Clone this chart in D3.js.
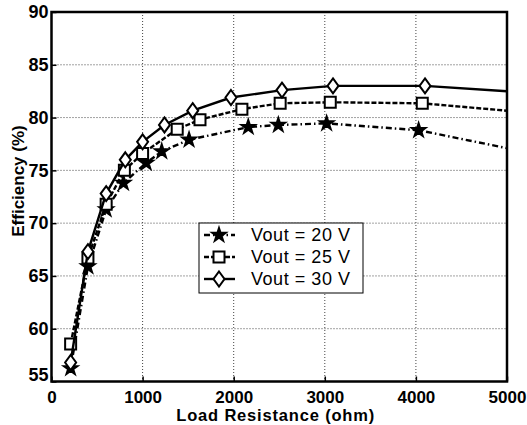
<!DOCTYPE html>
<html lang="en">
<head>
<meta charset="UTF-8" />
<script src="https://d3js.org/d3.v7.min.js"></script>
<style>
  body { margin: 0; background: #fff; }
  text { font-family: "Liberation Sans", Arial, sans-serif; }
</style>
<title>Efficiency</title>
</head>
<body>
<script>
// data
var seriesNames = ["Vout = 20 V", "Vout = 25 V", "Vout = 30 V"];
var load20 = [210, 400, 600, 790, 1040, 1210, 1510, 2160, 2490, 3020, 4030, 5000];
var eff20  = [56.25, 65.9, 71.3, 73.8, 75.7, 76.8, 77.9, 79.1, 79.3, 79.45, 78.8, 77.1];
var load25 = [210, 400, 600, 800, 1000, 1380, 1630, 2090, 2510, 3060, 4070, 5000];
var eff25  = [58.55, 66.7, 71.8, 75.0, 76.6, 78.9, 79.8, 80.8, 81.35, 81.45, 81.35, 80.65];
var load30 = [210, 400, 600, 810, 1000, 1240, 1550, 1970, 2530, 3090, 4100, 5000];
var eff30  = [56.8, 67.3, 72.8, 76.0, 77.7, 79.3, 80.65, 81.9, 82.6, 83.0, 83.0, 82.5];
var xTicks = [0, 1000, 2000, 3000, 4000, 5000];
var yTicks = [55, 60, 65, 70, 75, 80, 85, 90];

var margin = {top: 12, right: 20, bottom: 44, left: 51.5},
    W = 527, H = 425,
    w = 507 - margin.left,
    h = 381.5 - margin.top;

var svg = d3.select("body").append("svg")
    .attr("width", W)
    .attr("height", H);
var g = svg.append("g")
    .attr("transform", "translate(" + margin.left + "," + margin.top + ")");

var x = d3.scaleLinear().domain([0, 5000]).range([0, w]);
var y = d3.scaleLinear().domain([55, 90]).range([h, 0]);

// grid
g.selectAll(".gx").data(xTicks.slice(1, -1)).enter().append("line")
  .attr("x1", d => x(d)).attr("x2", d => x(d))
  .attr("y1", 0).attr("y2", h)
  .attr("stroke", "#444").attr("stroke-width", 1).attr("stroke-dasharray", "1,2");
g.selectAll(".gy").data(yTicks.slice(1, -1)).enter().append("line")
  .attr("y1", d => y(d)).attr("y2", d => y(d))
  .attr("x1", 0).attr("x2", w)
  .attr("stroke", "#444").attr("stroke-width", 1).attr("stroke-dasharray", "1,2");

// axes
var xAxis = g.append("g").attr("transform", "translate(0," + h + ")")
  .call(d3.axisBottom(x).tickValues(xTicks).tickSize(-5).tickPadding(0).tickFormat(d3.format("d")));
var yAxis = g.append("g")
  .call(d3.axisLeft(y).tickValues(yTicks).tickSize(-5).tickPadding(3));
[xAxis, yAxis].forEach(function(a) {
  a.select(".domain").remove();
  a.selectAll("text").attr("font-size", "18px").attr("font-weight", "bold")
    .attr("fill", "#000").attr("font-family", "Liberation Sans, Arial, sans-serif");
  a.selectAll(".tick line").attr("stroke", "#000").attr("stroke-width", 1.5);
});
// the 55 and 0 labels sit around the corner
yAxis.selectAll(".tick").filter(d => d === 55).select("text").attr("dy", "-0.05em");
xAxis.selectAll(".tick text").attr("font-size", "17px").attr("y", 21).attr("dy", 0);

// clip for the lines
g.append("clipPath").attr("id", "clip").append("rect")
  .attr("width", w).attr("height", h);

var series = [
  {name: seriesNames[0], load: load20, eff: eff20, dash: "6,3,1.5,3", mark: "star"},
  {name: seriesNames[1], load: load25, eff: eff25, dash: "5,2", mark: "square"},
  {name: seriesNames[2], load: load30, eff: eff30, dash: null, mark: "diamond"}
];

var line = d3.line().x(d => x(d[0])).y(d => y(d[1]));

function markerPath(kind) {
  if (kind === "star") return d3.symbol().type(d3.symbolStar).size(55)();
  if (kind === "square") return "M-5.5,-5.5H5.5V5.5H-5.5Z";
  return "M0,-7.5L5.5,0L0,7.5L-5.5,0Z";
}

series.forEach(function(s) {
  var pts = s.load.map((v, i) => [v, s.eff[i]]);
  g.append("path").datum(pts)
    .attr("clip-path", "url(#clip)")
    .attr("fill", "none").attr("stroke", "#000").attr("stroke-width", 2.4)
    .attr("stroke-dasharray", s.dash)
    .attr("d", line);
  g.selectAll(".m-" + s.mark).data(pts.filter(p => p[0] < 5000)).enter().append("path")
    .attr("transform", d => "translate(" + x(d[0]) + "," + y(d[1]) + ")")
    .attr("d", markerPath(s.mark))
    .attr("fill", s.mark === "star" ? "#000" : "#fff").attr("stroke", "#000").attr("stroke-width", 2);
});

// frame
g.append("rect").attr("width", w).attr("height", h)
  .attr("fill", "none").attr("stroke", "#000").attr("stroke-width", 2.5);

// legend
var lg = svg.append("g").attr("transform", "translate(199,223)");
lg.append("rect").attr("width", 164).attr("height", 70)
  .attr("fill", "#fff").attr("stroke", "#000").attr("stroke-width", 1);
series.forEach(function(s, i) {
  var yy = 12 + i * 22;
  lg.append("line").attr("x1", 5).attr("x2", 36).attr("y1", yy).attr("y2", yy)
    .attr("stroke", "#000").attr("stroke-width", 2.4).attr("stroke-dasharray", s.dash);
  lg.append("path").attr("transform", "translate(20," + yy + ")")
    .attr("d", markerPath(s.mark))
    .attr("fill", s.mark === "star" ? "#000" : "#fff").attr("stroke", "#000").attr("stroke-width", 2);
  lg.append("text").attr("x", 52).attr("y", yy).attr("dy", "0.36em")
    .attr("font-size", "18px").attr("textLength", 99).text(s.name);
});

// axis titles
svg.append("text")
  .attr("x", margin.left + x(2500) - 4).attr("y", 421)
  .attr("text-anchor", "middle").attr("font-size", "16.5px").attr("font-weight", "bold")
  .attr("textLength", 198)
  .text("Load Resistance (ohm)");
svg.append("text")
  .attr("transform", "translate(24,181) rotate(-90)")
  .attr("text-anchor", "middle").attr("font-size", "17px").attr("font-weight", "bold")
  .text("Efficiency (%)");
</script>
</body>
</html>
